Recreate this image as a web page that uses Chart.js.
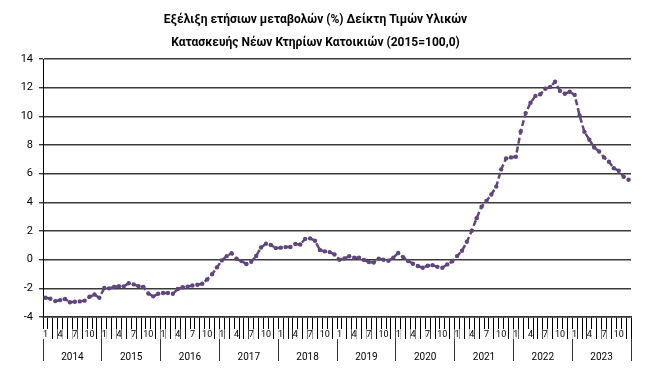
<!DOCTYPE html>
<html><head><meta charset="utf-8">
<script src="https://cdn.jsdelivr.net/npm/chart.js@4"></script>
<style>html,body{margin:0;padding:0;background:#fff}</style>
</head><body>
<canvas id="c" width="652" height="384"></canvas>
<script>
const titleLines = ['Εξέλιξη ετήσιων μεταβολών (%) Δείκτη Τιμών Υλικών', 'Κατασκευής Νέων Κτηρίων Κατοικιών (2015=100,0)'];
const years = ['2014','2015','2016','2017','2018','2019','2020','2021','2022','2023'];
const months = ['1','2','3','4','5','6','7','8','9','10','11','12'];
const shownMonths = ['1','4','7','10'];
const yMin = -4, yMax = 14, yStep = 2;

const v2014 = [-2.66, -2.73, -2.89, -2.82, -2.74, -2.97, -2.94, -2.91, -2.86, -2.59, -2.43, -2.66];
const v2015 = [-1.98, -2.00, -1.91, -1.85, -1.86, -1.64, -1.72, -1.85, -1.90, -2.36, -2.56, -2.38];
const v2016 = [-2.33, -2.33, -2.38, -2.05, -1.92, -1.88, -1.80, -1.75, -1.68, -1.38, -1.02, -0.54];
const v2017 = [-0.05, 0.25, 0.45, 0.06, -0.10, -0.30, -0.14, 0.26, 0.85, 1.12, 1.03, 0.81];
const v2018 = [0.84, 0.88, 0.89, 1.10, 1.06, 1.45, 1.49, 1.32, 0.68, 0.58, 0.53, 0.36];
const v2019 = [0.00, 0.08, 0.24, 0.14, 0.13, -0.02, -0.16, -0.20, 0.07, 0.00, -0.07, 0.14];
const v2020 = [0.47, 0.18, -0.09, -0.28, -0.44, -0.56, -0.42, -0.38, -0.50, -0.56, -0.33, -0.12];
const v2021 = [0.25, 0.62, 1.25, 2.02, 2.90, 3.70, 4.10, 4.55, 5.10, 6.30, 7.07, 7.14];
const v2022 = [7.18, 8.95, 10.23, 10.95, 11.43, 11.55, 11.93, 12.05, 12.42, 11.78, 11.58, 11.72];
const v2023 = [11.50, 10.07, 8.92, 8.37, 7.83, 7.55, 7.14, 6.83, 6.38, 6.21, 5.79, 5.58];

const values = [].concat(v2014, v2015, v2016, v2017, v2018, v2019, v2020, v2021, v2022, v2023);
const labels = [];
years.forEach(y => months.forEach(m => labels.push(m)));

const FONT = 'Roboto, "Noto Sans", sans-serif';
const purple = '#5E477C';

new Chart(document.getElementById('c'), {
  type: 'line',
  data: {
    labels: labels,
    datasets: [{
      data: values,
      xAxisID: 'x',
      borderColor: purple,
      backgroundColor: purple,
      borderWidth: 2.5,
      borderDash: [6, 3],
      pointRadius: 2.2,
      pointBorderWidth: 0,
      pointBackgroundColor: purple,
      tension: 0,
      fill: false
    }]
  },
  options: {
    responsive: false,
    devicePixelRatio: 1,
    animation: false,
    layout: { padding: { left: 0, right: 21, top: 0, bottom: 0 } },
    plugins: {
      legend: { display: false },
      tooltip: { enabled: false },
      title: {
        display: true,
        text: titleLines,
        color: '#000',
        font: { family: FONT, size: 12, weight: 'bold', lineHeight: 1.92 },
        padding: { top: 8, bottom: 5 }
      }
    },
    scales: {
      x: {
        type: 'category',
        position: 'bottom',
        weight: 0,
        offset: true,
        grid: { offset: true, drawOnChartArea: false, tickLength: 22, color: '#000', lineWidth: 1 },
        border: { display: true, color: '#333', width: 1.5 },
        ticks: {
          autoSkip: false, maxRotation: 0, minRotation: 0, padding: -10,
          color: '#000', font: { family: FONT, size: 9 },
          showLabelBackdrop: true, backdropColor: '#fff', backdropPadding: 0,
          callback: function(v) { const l = this.getLabelForValue(v); return shownMonths.includes(l) ? l : ''; }
        },
        afterFit: s => { s.height = 22; }
      },
      x2: {
        type: 'category',
        position: 'bottom',
        weight: 1,
        labels: years,
        offset: true,
        grid: { offset: true, drawOnChartArea: false, tickLength: 22, color: '#333', lineWidth: 1 },
        border: { display: false },
        ticks: { autoSkip: false, maxRotation: 0, padding: -10, color: '#000', font: { family: FONT, size: 10 } },
        afterFit: s => { s.height = 45; }
      },
      y: {
        min: yMin, max: yMax,
        ticks: { stepSize: yStep, padding: 6, color: '#000', font: { family: FONT, size: 11 } },
        grid: { color: '#3a3a3a', lineWidth: 1.4, tickLength: 4 },
        border: { display: true, color: '#000', width: 1 },
        afterFit: s => { s.width = 43; }
      }
    }
  }
});
</script>
</body></html>
